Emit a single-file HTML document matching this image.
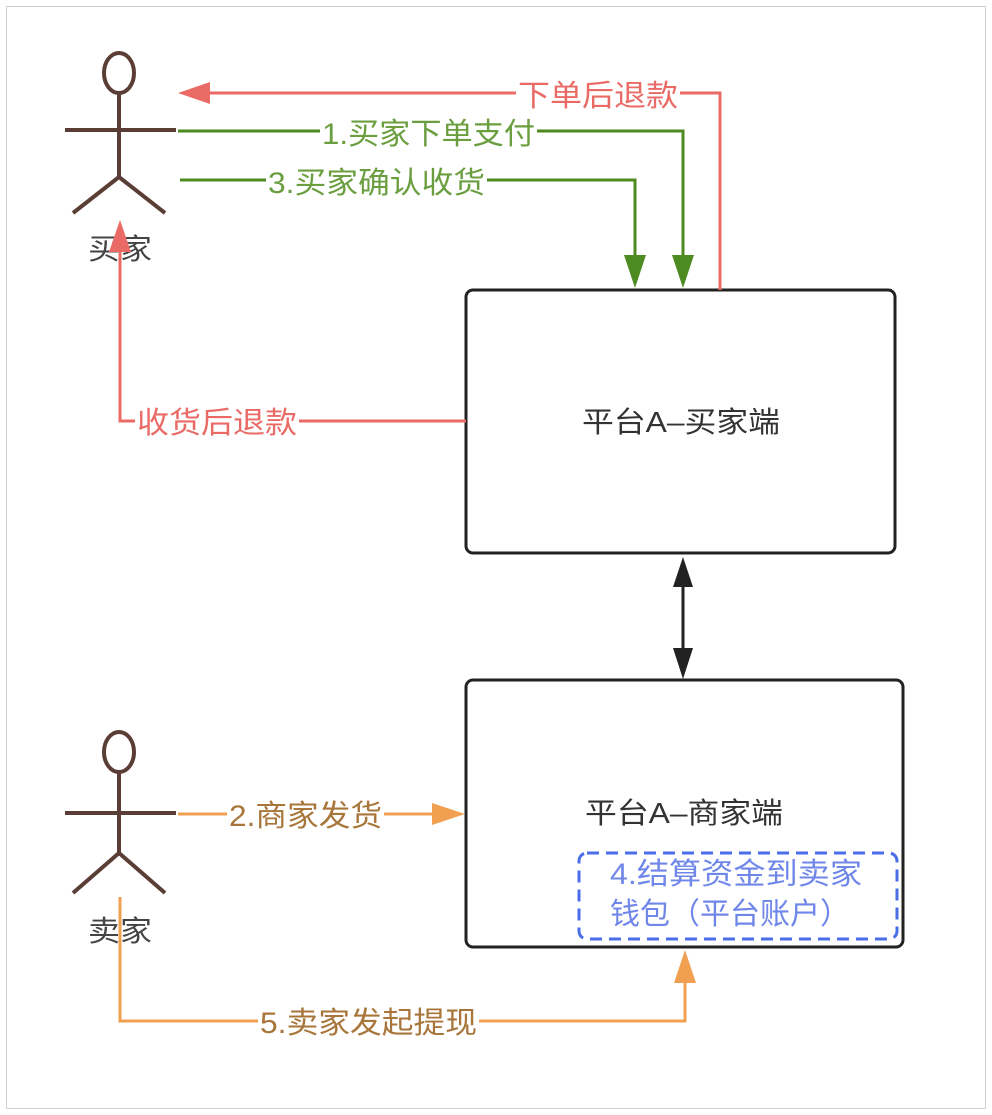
<!DOCTYPE html>
<html><head><meta charset="utf-8"><style>
html,body{margin:0;padding:0;background:#fff;}
svg{display:block;}
text{font-family:"Liberation Sans","Noto Sans CJK SC",sans-serif;}
</style></head><body>
<svg width="992" height="1115" viewBox="0 0 992 1115" xmlns="http://www.w3.org/2000/svg">
<rect x="6.5" y="6.5" width="979" height="1102" fill="#fff" stroke="#d0d0d0" stroke-width="1"/>
<g stroke="#5a3e36" stroke-width="4" fill="none">
<ellipse cx="119" cy="73" rx="15" ry="20"/>
<line x1="119" y1="93" x2="119" y2="177"/>
<line x1="65" y1="130" x2="176" y2="130"/>
<line x1="119" y1="177" x2="73" y2="213"/>
<line x1="119" y1="177" x2="165" y2="213"/>
</g>
<text x="88" y="259" font-size="29" fill="#444" textLength="64" lengthAdjust="spacingAndGlyphs">买家</text>
<g stroke="#5a3e36" stroke-width="4" fill="none">
<ellipse cx="119" cy="752" rx="15" ry="20"/>
<line x1="119" y1="772" x2="119" y2="853"/>
<line x1="65" y1="813" x2="176" y2="813"/>
<line x1="119" y1="853" x2="73" y2="893"/>
<line x1="119" y1="853" x2="165" y2="893"/>
</g>
<text x="88" y="941" font-size="29" fill="#444" textLength="64" lengthAdjust="spacingAndGlyphs">卖家</text>
<rect x="466" y="290" width="429" height="263" rx="7" fill="#fff" stroke="#222" stroke-width="3"/>
<text x="582" y="432" font-size="29" fill="#333" textLength="198" lengthAdjust="spacingAndGlyphs">平台A–买家端</text>
<rect x="466" y="680" width="437" height="267" rx="7" fill="#fff" stroke="#222" stroke-width="3"/>
<text x="585" y="823" font-size="29" fill="#333" textLength="198" lengthAdjust="spacingAndGlyphs">平台A–商家端</text>
<rect x="579" y="853" width="318" height="86" rx="8" fill="none" stroke="#4a6ee8" stroke-width="3" stroke-dasharray="12,7"/>
<text x="610" y="884" font-size="30" fill="#7087ea" textLength="252" lengthAdjust="spacingAndGlyphs">4.结算资金到卖家</text>
<text x="610" y="924" font-size="30" fill="#7087ea" textLength="240" lengthAdjust="spacingAndGlyphs">钱包（平台账户）</text>
<line x1="683" y1="575" x2="683" y2="660" stroke="#222" stroke-width="3"/>
<polygon points="683,557 673,587 693,587" fill="#222"/>
<polygon points="683,679 673,648 693,648" fill="#222"/>
<polyline points="720,290 720,93 198,93" fill="none" stroke="#ea6b66" stroke-width="3"/>
<polygon points="178,93 210,82 210,104" fill="#ea6b66"/>
<rect x="516" y="78" width="164" height="32" fill="#fff"/>
<text x="518" y="106" font-size="30" fill="#ea6b66" textLength="160" lengthAdjust="spacingAndGlyphs">下单后退款</text>
<polyline points="178,131 683,131 683,268" fill="none" stroke="#4d8a1f" stroke-width="3"/>
<polygon points="683,288 672,255 694,255" fill="#4d8a1f"/>
<rect x="320" y="116" width="217" height="32" fill="#fff"/>
<text x="322" y="144" font-size="30" fill="#6a9e3f" textLength="213" lengthAdjust="spacingAndGlyphs">1.买家下单支付</text>
<polyline points="180,180 635,180 635,268" fill="none" stroke="#4d8a1f" stroke-width="3"/>
<polygon points="635,288 624,255 646,255" fill="#4d8a1f"/>
<rect x="266" y="165" width="221" height="32" fill="#fff"/>
<text x="268" y="193" font-size="30" fill="#6a9e3f" textLength="217" lengthAdjust="spacingAndGlyphs">3.买家确认收货</text>
<polyline points="466,421 120,421 120,240" fill="none" stroke="#ea6b66" stroke-width="3"/>
<polygon points="120,220 109,252 131,252" fill="#ea6b66"/>
<rect x="135" y="405" width="164" height="32" fill="#fff"/>
<text x="137" y="433" font-size="30" fill="#ea6b66" textLength="160" lengthAdjust="spacingAndGlyphs">收货后退款</text>
<line x1="178" y1="814" x2="440" y2="814" stroke="#f0a050" stroke-width="3"/>
<polygon points="465,814 432,803 432,825" fill="#f0a050"/>
<rect x="227" y="798" width="157" height="32" fill="#fff"/>
<text x="229" y="826" font-size="30" fill="#a8753a" textLength="153" lengthAdjust="spacingAndGlyphs">2.商家发货</text>
<polyline points="120,897 120,1021 685,1021 685,975" fill="none" stroke="#f0a050" stroke-width="3"/>
<polygon points="685,950 674,983 696,983" fill="#f0a050"/>
<rect x="258" y="1005" width="221" height="32" fill="#fff"/>
<text x="260" y="1033" font-size="30" fill="#a8753a" textLength="217" lengthAdjust="spacingAndGlyphs">5.卖家发起提现</text>
</svg>
</body></html>
